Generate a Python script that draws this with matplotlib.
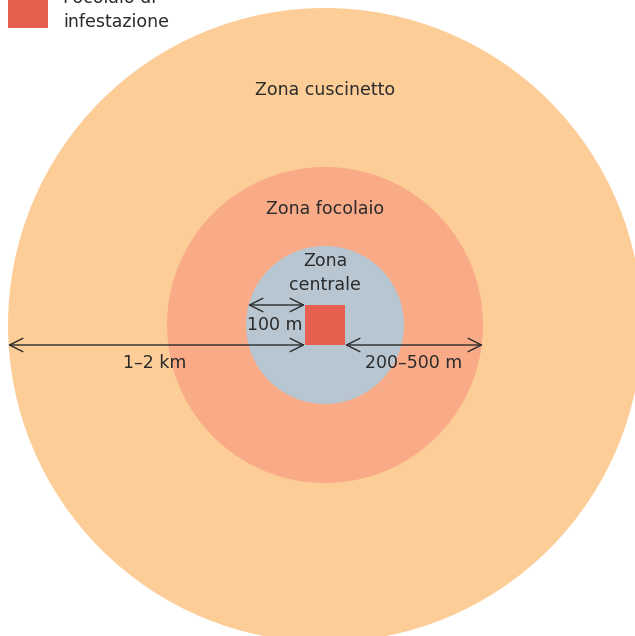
import matplotlib.pyplot as plt
from matplotlib.patches import Circle, Rectangle

plt.rcParams['font.family'] = ['DejaVu Sans']

# zone (dall'esterno verso l'interno)
zone = ['Zona cuscinetto', 'Zona focolaio', 'Zona\ncentrale']
raggi = [317, 158, 79]
colori = ['#FDCD98', '#F9AB87', '#B8C6D1']
label_y = [90, 209, 273]

# distanze
distanze = ['100 m', '1–2 km', '200–500 m']

centro = (325, 325)
lato = 40
rosso = '#E6604F'
testo = '#2b2b2b'

fig = plt.figure(figsize=(6.35, 6.36), dpi=100)
ax = fig.add_axes([0, 0, 1, 1])
ax.set_xlim(0, 635)
ax.set_ylim(636, 0)
ax.axis('off')

for r, c in zip(raggi, colori):
    ax.add_patch(Circle(centro, r, color=c, lw=0))

ax.add_patch(Rectangle((centro[0] - lato / 2, centro[1] - lato / 2), lato, lato,
                       color=rosso, lw=0))

fs = 12.5
for nome, y in zip(zone, label_y):
    ax.text(centro[0], y, nome, ha='center', va='center', fontsize=fs,
            color=testo, linespacing=1.4)

freccia = dict(arrowstyle='<->', color=testo, lw=1.0, mutation_scale=24,
               shrinkA=0, shrinkB=0)
sx = centro[0] - lato / 2
dx = centro[0] + lato / 2
y_alto = centro[1] - lato / 2
y_basso = centro[1] + lato / 2

ax.annotate('', xy=(centro[0] - raggi[2] + 2, y_alto), xytext=(sx, y_alto),
            arrowprops=freccia)
ax.annotate('', xy=(centro[0] - raggi[0], y_basso), xytext=(sx, y_basso),
            arrowprops=freccia)
ax.annotate('', xy=(centro[0] + raggi[1], y_basso), xytext=(dx, y_basso),
            arrowprops=freccia)

ax.text(275, 325, distanze[0], ha='center', va='center', fontsize=fs, color=testo)
ax.text(155, 363, distanze[1], ha='center', va='center', fontsize=fs, color=testo)
ax.text(414, 363, distanze[2], ha='center', va='center', fontsize=fs, color=testo)

# legenda
ax.add_patch(Rectangle((8, 0), 40, 28, color=rosso, lw=0))
ax.text(63, 10, 'Focolaio di\ninfestazione', ha='left', va='center',
        fontsize=fs, color=testo, linespacing=1.4)

fig.savefig('out.png', dpi=100)
